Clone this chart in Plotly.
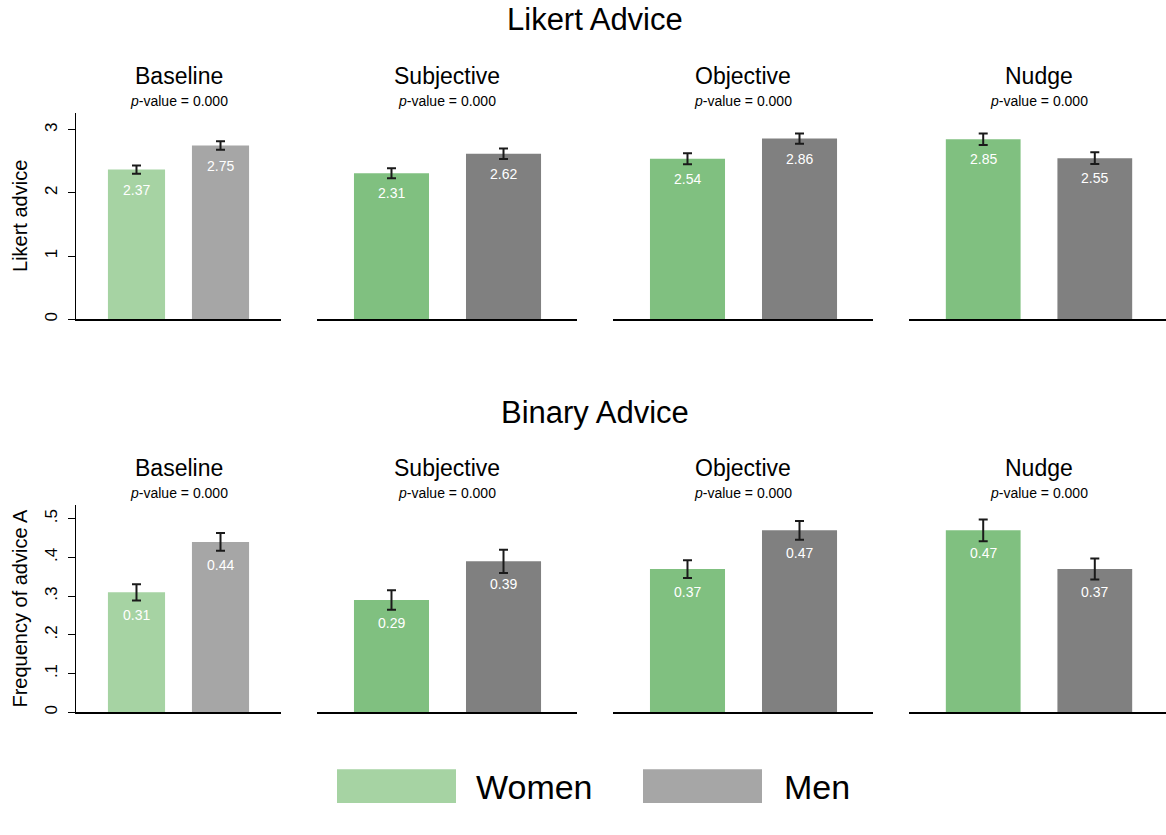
import plotly.graph_objects as go

# ---------------------------------------------------------------- data
treatments = ["Baseline", "Subjective", "Objective", "Nudge"]
groups = ["Women", "Men"]
row_titles = ["Likert Advice", "Binary Advice"]
y_titles = ["Likert advice", "Frequency of advice A"]
p_values = [["0.000", "0.000", "0.000", "0.000"],
            ["0.000", "0.000", "0.000", "0.000"]]

likert_women = [2.37, 2.31, 2.54, 2.85]
likert_men = [2.75, 2.62, 2.86, 2.55]
likert_women_err = [0.065, 0.079, 0.087, 0.090]
likert_men_err = [0.068, 0.084, 0.082, 0.093]

binary_women = [0.31, 0.29, 0.37, 0.47]
binary_men = [0.44, 0.39, 0.47, 0.37]
binary_women_err = [0.021, 0.025, 0.023, 0.028]
binary_men_err = [0.023, 0.030, 0.024, 0.027]

likert_ticks = [0, 1, 2, 3]
likert_ticktext = ["0", "1", "2", "3"]
binary_ticks = [0, 0.1, 0.2, 0.3, 0.4, 0.5]
binary_ticktext = ["0", ".1", ".2", ".3", ".4", ".5"]

women_colors = ["#a6d3a3", "#80c080", "#80c080", "#80c080"]
men_colors = ["#a6a6a6", "#808080", "#808080", "#808080"]

# ---------------------------------------------------------------- layout geometry (pixels)
W, H = 1166, 835
FONT = "Liberation Sans, Arial, Helvetica, sans-serif"

col_px = [(76, 281), (317, 577), (613, 873), (909, 1166)]
col_xrange = [(-0.72, 1.72), (-0.665, 1.656), (-0.665, 1.656), (-0.665, 1.638)]
bar_width = [0.68, 0.67, 0.67, 0.67]
row_px = [(113, 320), (506, 714)]  # (top, bottom)
row_ymax = [3.27, 0.536]
label_shift = [-20, -23]


def px(x):
    return x / W


def py(y):
    return 1 - y / H


rows = [
    (likert_women, likert_men, likert_women_err, likert_men_err, likert_ticks, likert_ticktext),
    (binary_women, binary_men, binary_women_err, binary_men_err, binary_ticks, binary_ticktext),
]

fig = go.Figure()
annotations = []
layout_axes = {}

for r, (wv, mv, we, me, tv, tt) in enumerate(rows):
    top, bottom = row_px[r]
    for c in range(4):
        k = r * 4 + c + 1
        xa = "x" if k == 1 else f"x{k}"
        ya = "y" if k == 1 else f"y{k}"
        vals = [wv[c], mv[c]]
        fig.add_trace(go.Bar(
            x=[0, 1], y=vals,
            width=bar_width[c],
            marker=dict(color=[women_colors[c], men_colors[c]], line=dict(width=0)),
            error_y=dict(type="data", array=[we[c], me[c]], visible=True,
                         color="#1a1a1a", thickness=2, width=4.5),
            xaxis=xa, yaxis=ya, showlegend=False, hoverinfo="skip",
        ))
        for i, v in enumerate(vals):
            annotations.append(dict(
                x=i, y=v, xref=xa, yref=ya, text=f"{v:.2f}", showarrow=False,
                yanchor="middle", yshift=label_shift[r],
                font=dict(family=FONT, size=14, color="white"),
            ))

        x0, x1 = col_px[c]
        layout_axes["xaxis" if k == 1 else f"xaxis{k}"] = dict(
            domain=[px(x0), px(x1)], range=list(col_xrange[c]), anchor=ya,
            showline=True, linecolor="#000000", linewidth=1.5,
            showticklabels=False, ticks="", showgrid=False, zeroline=False, fixedrange=True,
        )
        yax = dict(domain=[py(bottom), py(top)], range=[0, row_ymax[r]], anchor=xa,
                   showgrid=False, zeroline=False, fixedrange=True)
        if c == 0:
            yax.update(showline=True, linecolor="#000000", linewidth=1.3,
                       ticks="outside", ticklen=7, tickwidth=1.3, tickcolor="#000000",
                       tickvals=tv, ticktext=tt, tickangle=-90, ticklabelstandoff=4,
                       tickfont=dict(family=FONT, size=17, color="#000000"))
        else:
            yax.update(visible=False)
        layout_axes["yaxis" if k == 1 else f"yaxis{k}"] = yax

        # panel titles
        cx = px((x0 + min(x1, 1169) + (3 if c == 3 else 0)) / 2)
        annotations.append(dict(
            x=cx, y=py(top - 37), xref="paper", yref="paper", text=treatments[c],
            showarrow=False, xanchor="center", yanchor="middle",
            font=dict(family=FONT, size=23, color="#000000"),
        ))
        annotations.append(dict(
            x=cx, y=py(top - 12), xref="paper", yref="paper",
            text=f"<i>p</i>-value = {p_values[r][c]}",
            showarrow=False, xanchor="center", yanchor="middle",
            font=dict(family=FONT, size=14, color="#000000"),
        ))

    # row title and y-axis title
    annotations.append(dict(
        x=px(595), y=py(top - 93), xref="paper", yref="paper", text=row_titles[r],
        showarrow=False, xanchor="center", yanchor="middle",
        font=dict(family=FONT, size=31, color="#000000"),
    ))
    annotations.append(dict(
        x=px(20), y=py((top + bottom) / 2), xref="paper", yref="paper", text=y_titles[r],
        showarrow=False, xanchor="center", yanchor="middle", textangle=-90,
        font=dict(family=FONT, size=20, color="#000000"),
    ))

# legend drawn as swatches with labels
shapes = []
legend_items = [(groups[0], women_colors[0], 337, 456, 474),
                (groups[1], men_colors[0], 643, 762, 782)]
for name, color, sx0, sx1, tx in legend_items:
    shapes.append(dict(type="rect", xref="paper", yref="paper",
                       x0=px(sx0), x1=px(sx1), y0=py(805), y1=py(771),
                       fillcolor=color, line=dict(width=0)))
    annotations.append(dict(
        x=px(tx), y=py(789), xref="paper", yref="paper", text=name,
        showarrow=False, xanchor="left", yanchor="middle",
        font=dict(family=FONT, size=34, color="#000000"),
    ))

fig.update_layout(
    width=W, height=H,
    margin=dict(l=0, r=0, t=0, b=0),
    paper_bgcolor="white", plot_bgcolor="white",
    font=dict(family=FONT, color="#000000"),
    annotations=annotations, shapes=shapes,
    showlegend=False,
    **layout_axes,
)

fig.write_html("out.html")
